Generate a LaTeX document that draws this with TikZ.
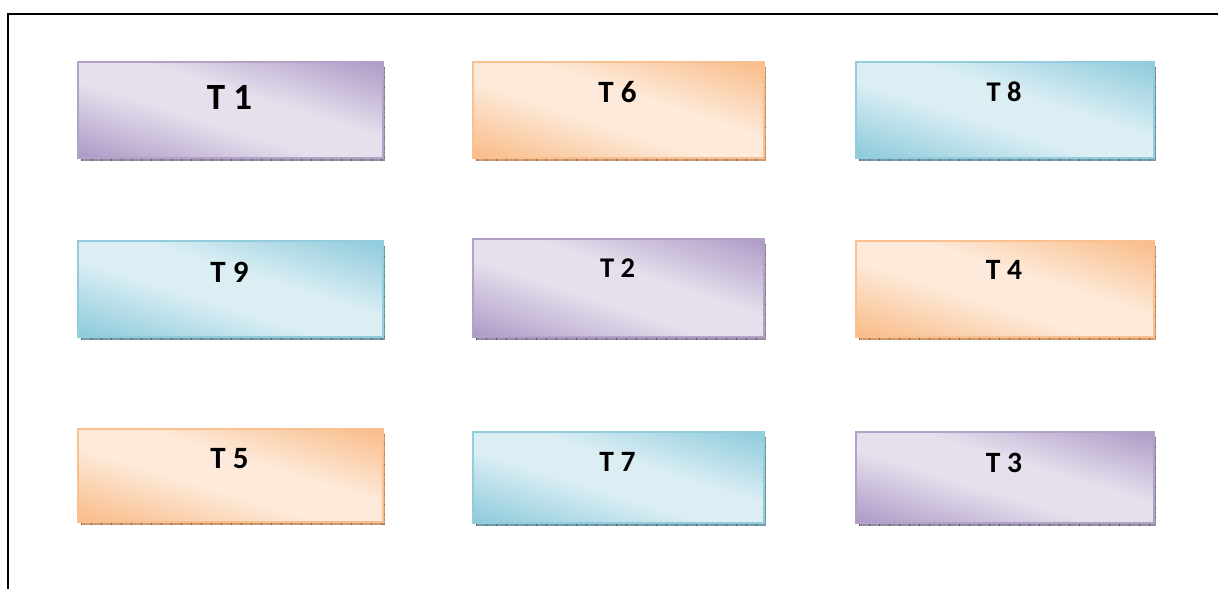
\documentclass[tikz,border=0pt]{standalone}
\usepackage{fontspec}
\setmainfont{Carlito}
\definecolor{pdark}{RGB}{172,153,198}
\definecolor{plight}{RGB}{230,224,237}
\definecolor{pborder}{RGB}{179,162,199}
\definecolor{pshadow}{RGB}{150,140,162}
\definecolor{ptick}{RGB}{95,85,110}
\definecolor{odark}{RGB}{249,187,135}
\definecolor{olight}{RGB}{253,234,218}
\definecolor{oborder}{RGB}{250,192,144}
\definecolor{oshadow}{RGB}{205,155,115}
\definecolor{otick}{RGB}{155,95,55}
\definecolor{bdark}{RGB}{140,202,219}
\definecolor{blight}{RGB}{219,238,244}
\definecolor{bborder}{RGB}{147,205,221}
\definecolor{bshadow}{RGB}{115,155,168}
\definecolor{btick}{RGB}{65,105,120}
\pgfdeclarehorizontalshading{pshade}{100bp}{color(0bp)=(pdark); color(25bp)=(pdark); color(45bp)=(plight); color(55bp)=(plight); color(75bp)=(pdark); color(100bp)=(pdark)}
\pgfdeclarehorizontalshading{oshade}{100bp}{color(0bp)=(odark); color(25bp)=(odark); color(45bp)=(olight); color(55bp)=(olight); color(75bp)=(odark); color(100bp)=(odark)}
\pgfdeclarehorizontalshading{bshade}{100bp}{color(0bp)=(bdark); color(25bp)=(bdark); color(45bp)=(blight); color(55bp)=(blight); color(75bp)=(bdark); color(100bp)=(bdark)}
\tikzset{
  pbox/.style={draw=pborder, line width=1.5pt},
  obox/.style={draw=oborder, line width=1.5pt},
  bbox/.style={draw=bborder, line width=1.5pt},
  frameline/.style={line width=2pt, black},
  label/.style={font=\bfseries\fontsize{#1}{#1}\selectfont, anchor=base, inner sep=0pt},
}
\newcommand{\tboxdraw}[9]{%
  \fill[#6shadow] (#2+4,#3+6) rectangle (#4+3,#5+4);
  \draw[#6tick, line width=4pt, dash pattern=on 1pt off 9pt] (#2+4,#5+2) -- (#4+3,#5+2);
  \draw[#6tick, line width=2.5pt, dash pattern=on 1pt off 9pt] (#4+1.75,#3+6) -- (#4+1.75,#5+4);
  \pgfmathsetmacro{\hw}{(#4-#2)/2}
  \pgfmathsetmacro{\hh}{(#5-#3)/2}
  \begin{scope}
    \clip (#2,#3) rectangle (#4,#5);
    \begin{scope}[x=1pt,y=1pt,transform canvas={cm={\hw,\hh,\hw,-\hh,(#2pt,-#5pt)}}]
      \shade[shading=#6shade] (0,-1) rectangle (2,1);
    \end{scope}
  \end{scope}
  \node[#6box, inner sep=0pt, anchor=north west, minimum width={#4pt-#2pt}, minimum height={#5pt-#3pt}] (#1) at (#2,#3) {};
  \node[label=#8] (#1l) at ({(#2+#4)/2},#9) {#7};
}
\begin{document}
\begin{tikzpicture}[x=1pt,y=-1pt]
\useasboundingbox (0,0) rectangle (1218,589);
\fill[white] (0,0) rectangle (1218,589);
\coordinate (fb) at (8,589);
\coordinate (fc) at (8,13.5);
\coordinate (fr) at (1218,13.5);
\draw[frameline] (fb) -- (fc) -- (fr);
\tboxdraw{t1}{77}{61}{382}{157}{p}{T 1}{37}{109}
\tboxdraw{t6}{472}{61}{763}{157}{o}{T 6}{31}{102}
\tboxdraw{t8}{855}{61}{1153}{157}{b}{T 8}{28.5}{101}
\tboxdraw{t9}{77}{240}{382}{336}{b}{T 9}{31}{282}
\tboxdraw{t2}{472}{238}{763}{336}{p}{T 2}{28.5}{277}
\tboxdraw{t4}{855}{240}{1153}{336}{o}{T 4}{29.5}{279}
\tboxdraw{t5}{77}{428}{382}{521}{o}{T 5}{31}{468}
\tboxdraw{t7}{472}{431}{763}{522}{b}{T 7}{29.5}{471}
\tboxdraw{t3}{855}{431}{1153}{522}{p}{T 3}{29.5}{472}
\end{tikzpicture}
\end{document}
